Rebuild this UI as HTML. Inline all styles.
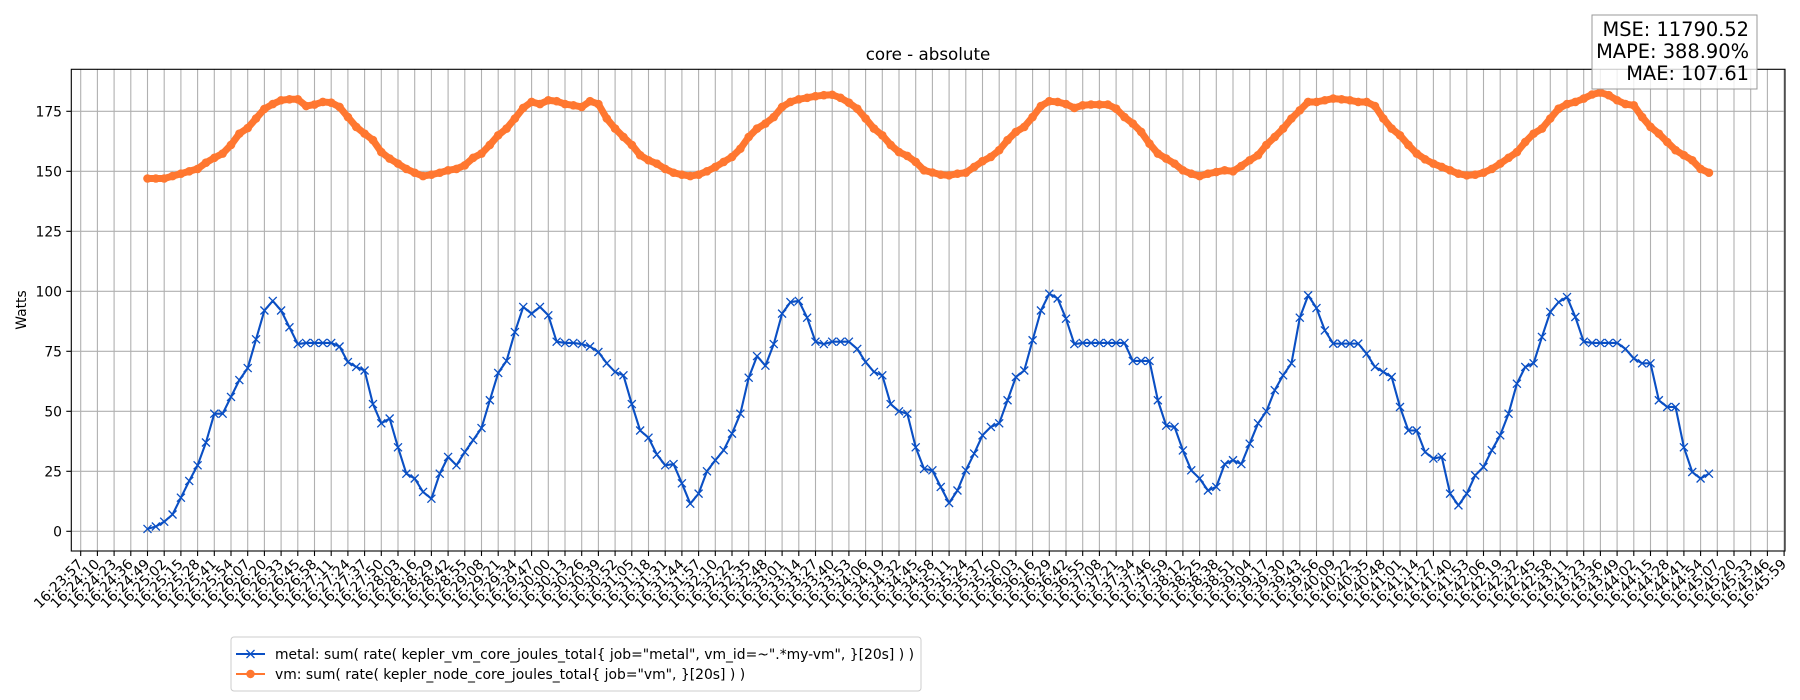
<!DOCTYPE html>
<html><head><meta charset="utf-8"><title>core - absolute</title>
<style>
html,body{margin:0;padding:0;background:#fff;}
svg{display:block;font-family:"DejaVu Sans","Liberation Sans",sans-serif;}
</style></head>
<body>
<svg id="chart" width="1800" height="700" viewBox="0 0 1800 700" xmlns="http://www.w3.org/2000/svg">
<rect x="0" y="0" width="1800" height="700" fill="#fff"/>
<g id="grid"></g>
<g id="series"></g>
<rect x="71.3" y="69.3" width="1713.7" height="481.7" fill="none" stroke="#000" stroke-width="1.1"/>
<g id="axes"></g>
<text x="928" y="60" text-anchor="middle" font-size="16.7" fill="#000">core - absolute</text>
<text transform="translate(26,310) rotate(-90)" text-anchor="middle" font-size="13.9" fill="#000">Watts</text>
<g>
<rect x="1592" y="15" width="165" height="74" fill="#fff" fill-opacity="0.8" stroke="#999" stroke-width="1"/>
<text x="1749" y="36" text-anchor="end" font-size="19.4" fill="#000">MSE: 11790.52</text>
<text x="1749" y="58" text-anchor="end" font-size="19.4" fill="#000">MAPE: 388.90%</text>
<text x="1749" y="80" text-anchor="end" font-size="19.4" fill="#000">MAE: 107.61</text>
</g>
<g>
<rect x="231" y="637" width="690" height="54" rx="3" fill="#fff" stroke="#ccc" stroke-width="1"/>
<g>
<line x1="236" y1="654" x2="265" y2="654" stroke="#0a4fc4" stroke-width="2.1"/>
<path d="M246.5 650 l8 8 M246.5 658 l8 -8" stroke="#0a4fc4" stroke-width="1.3"/>
<text x="275" y="659" font-size="13.9" fill="#000">metal: sum( rate( kepler_vm_core_joules_total{ job="metal", vm_id=~".*my-vm", }[20s] ) )</text>
</g>
<g>
<line x1="236" y1="674" x2="265" y2="674" stroke="#ff7730" stroke-width="2.1"/>
<circle cx="250.5" cy="674" r="4.2" fill="#ff7730"/>
<text x="275" y="679" font-size="13.9" fill="#000">vm: sum( rate( kepler_node_core_joules_total{ job="vm", }[20s] ) )</text>
</g>
</g>
</svg>
<script>
// ---- data ----
const startTime = 16*3600 + 23*60 + 57;   // first x tick
const endTime = 16*3600 + 45*60 + 59;     // last x tick
const tickCount = 103;
const sampleStartTick = 4;    // series start at tick index 4
const sampleStepTicks = 0.5;  // one sample every half tick
const yTicks = [0, 25, 50, 75, 100, 125, 150, 175];
const metalValues = [1,2,4,7,14,21,27.5,37,49,49,56,63,68,80,92,96,92,85,78,78.5,78.5,78.5,78.5,77,70.5,68.5,67,53,45,47,35,24,22,16.4,13.6,24,31,27.5,33,38,43,54.6,66,71,83,93.5,90.7,93.5,
90,79,78.5,78.5,78,77,74.7,70,66.4,65,53,42,39,32,27.5,28,20,11.5,15.7,25,29.6,33.8,40.7,49,64,73,69,78,90.7,95.5,96,89,79,78,79,79,79,76,70.5,66.4,65,53,50,49,35,26,
25.4,18.5,11.8,17,25.4,32.4,40,43.5,45,54.6,64.3,67,79.6,92,99,97,88.6,78,78.5,78.5,78.5,78.5,78.5,78.5,71,71,71,54.6,44,43.5,33.7,25.4,22,17,18.5,28,29.6,28,36.5,45,50,58.8,65,70,89,98.3,93,
83.7,78.2,78.2,78.2,78.2,74,68.5,66.4,64.3,51.8,42,42,33,30.3,31,15.7,10.8,15.7,23.3,26.8,33.8,40,49,61.5,68.5,70,81,91.4,95.5,97.6,89.3,79,78.5,78.5,78.5,78.5,76,72,70,70,54.6,51.8,51.8,35,24.7,22,24];
const vmValues = [147,147,147,148,149,150,151,153.6,155.6,157.4,161,165.7,168,172,176,178,179.6,180,180,177.2,177.8,178.9,178.6,176.8,172.6,168.5,165.7,163,158,155.3,153.2,151,149.4,148,148.6,149.4,150.4,151,152.5,155.6,157.4,161,165,167.8,172,176.4,178.9,178,
179.6,179.2,178,177.5,176.8,179.2,178,172,167.8,164.3,161,156.7,154.6,153.2,151,149.4,148.6,148,148.6,150,151.8,153.9,156,159.4,164.3,167.8,169.9,172.6,176.8,178.9,180,180.6,181.3,181.7,181.9,180.6,178.6,176.1,172,167.8,165,161,158,156.4,153.9,150.4,
149.5,148.6,148.3,149,149.4,151.8,154.2,156,158.8,163,166.4,168.5,172.6,177.2,179.2,178.9,178,176.4,177.5,177.8,177.8,177.8,176.1,172.6,169.9,166.4,161.5,157.4,155.3,153.2,150.4,149,148,149,149.7,150.4,150,152.2,154.6,156.7,161,164.3,167.8,172,175.4,178.9,178.9,
179.6,180.3,180,179.6,178.9,178.9,177.2,172,167.8,165,161,157.4,155,153.2,151.8,150.4,149,148.3,148.6,149.4,151,153.2,155.6,158,162.2,165.7,167.8,172,176.1,178,178.9,180.3,182,182.8,181.7,179.6,178,177.5,172.6,168.5,165.7,162.2,158.8,156.7,154.6,151,149.4];

// ---- axes ----
const NS = "http://www.w3.org/2000/svg";
const X0 = 80.7, TICKW = 16.7;
const Y0 = 531.3, PXU = 2.4;
function xScale(t){ return X0 + TICKW * t; }
function yScale(v){ return Y0 - PXU * v; }
function mk(tag, attrs, parent){ const e=document.createElementNS(NS,tag); for(const k in attrs) e.setAttribute(k, attrs[k]); parent.appendChild(e); return e; }
const grid = document.getElementById('grid');
const axes = document.getElementById('axes');
const series = document.getElementById('series');
const pad = n => String(n).padStart(2,'0');
const stepSec = (endTime - startTime) / (tickCount - 1);
for (let i = 0; i < tickCount; i++) {
  const x = xScale(i);
  const gl = mk('line', {x1:x, y1:69.3, x2:x, y2:551, stroke:'#b0b0b0', 'stroke-width':1.1}, grid);
  
  
  const tk = mk('line', {x1:x, y1:551, x2:x, y2:556, stroke:'#000', 'stroke-width':1.1}, axes);
  
  
  const s = Math.round(startTime + i * stepSec);
  const lab = pad(Math.floor(s/3600)) + ':' + pad(Math.floor(s%3600/60)) + ':' + pad(s%60);
  const t = mk('text', {transform:`translate(${x+3},${565}) rotate(-45)`, 'text-anchor':'end', 'font-size':13.9, fill:'#000'}, axes);
  
  
  t.textContent = lab;
}
yTicks.forEach(v => {
  const y = yScale(v);
  const gl = mk('line', {x1:71.3, y1:y, x2:1785, y2:y, stroke:'#b0b0b0', 'stroke-width':1.1}, grid);
  
  
  const tk = mk('line', {x1:66.3, y1:y, x2:71.3, y2:y, stroke:'#000', 'stroke-width':1.1}, axes);
  
  
  const t = mk('text', {x:62, y:y+5, 'text-anchor':'end', 'font-size':13.9, fill:'#000'}, axes);
  
  
  t.textContent = v;
});

// ---- series ----
function pts(vals){ return vals.map((v,i)=>[xScale(sampleStartTick + i*sampleStepTicks), yScale(v)]); }
const vmPts = pts(vmValues);
const vmLine = mk('polyline', {points: vmPts.map(p=>p.join(',')).join(' '), fill:'none', stroke:'#ff7730', 'stroke-width':7, 'stroke-linejoin':'round'}, series);


vmPts.forEach(p => {
  const c = mk('circle', {cx:p[0], cy:p[1], r:4.3, fill:'#ff7730'}, series);
  
  
});
const mPts = pts(metalValues);
const mLine = mk('polyline', {points: mPts.map(p=>p.join(',')).join(' '), fill:'none', stroke:'#0a4fc4', 'stroke-width':2.1, 'stroke-linejoin':'round'}, series);


mPts.forEach(p => {
  const m = mk('path', {d:`M${p[0]-4} ${p[1]-4} l8 8 M${p[0]-4} ${p[1]+4} l8 -8`, stroke:'#0a4fc4', 'stroke-width':1.3, fill:'none'}, series);
  
  
});
</script>
</body></html>
